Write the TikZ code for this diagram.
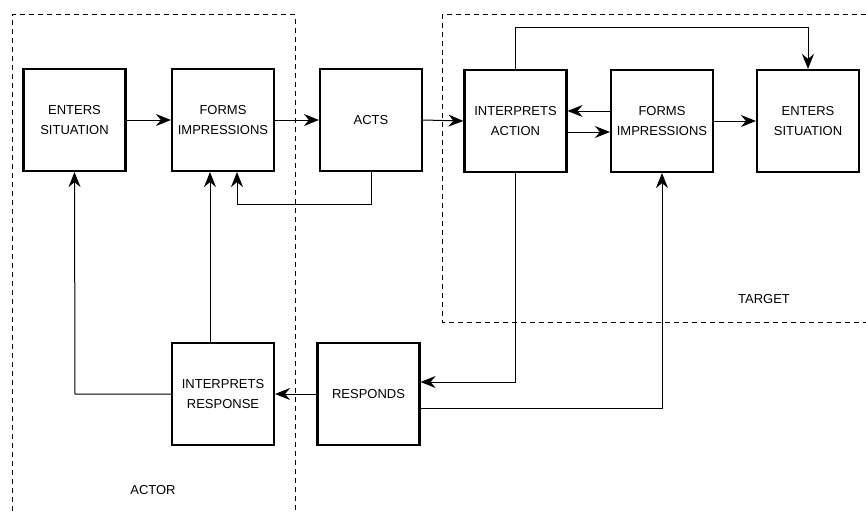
\documentclass[tikz,border=0pt]{standalone}
\usepackage{fontspec}
\setmainfont{Liberation Sans}
\usetikzlibrary{arrows.meta}
\tikzset{
  stage/.style={draw, line width=2.2pt, minimum width=102pt, minimum height=102pt,
    align=center, inner sep=0pt, font=\fontsize{13}{20.5}\selectfont},
  link/.style={line width=1pt},
  flow/.style={link, -{Stealth[length=15pt, width=12pt, inset=5pt]}},
  region/.style={line width=1pt, dash pattern=on 5pt off 4pt},
  caption/.style={font=\fontsize{13}{15}\selectfont}
}
\begin{document}
\begin{tikzpicture}[x=1pt, y=-1pt]
\useasboundingbox (0,0) rectangle (866,511);

% actor and target regions
\draw[region] (12,511) -- (12,15) -- (295,15) -- (295,511);
\draw[region] (866,15) -- (442,15) -- (442,322) -- (866,322);

% actor side
\node[stage] (es1) at (74.5,120) {ENTERS\\SITUATION};
\node[stage] (fi1) at (223,120) {FORMS\\IMPRESSIONS};
\node[stage] (acts) at (371,120) {ACTS};
\node[stage] (ir) at (223,394) {INTERPRETS\\RESPONSE};
\node[stage] (rs) at (368.5,394) {RESPONDS};

% target side
\node[stage] (ia) at (515.5,121) {INTERPRETS\\ACTION};
\node[stage] (fi2) at (662,121) {FORMS\\IMPRESSIONS};
\node[stage] (es2) at (808,121) {ENTERS\\SITUATION};

\node[caption] (actor) at (153,490) {ACTOR};
\node[caption] (target) at (764,299) {TARGET};

% main sequence
\draw[flow] (es1.east) -- (fi1.west);
\draw[flow] (fi1.east) -- (acts.west);
\draw[flow] (acts.east) -- (ia.west);
\draw[flow] (fi2.west |- 0,111) -- (ia.east |- 0,111);
\draw[flow] (ia.east |- 0,132) -- (fi2.west |- 0,132);
\draw[flow] (fi2.east) -- (es2.west);
\draw[flow] (ia.north) -- (ia.north |- 0,28) -| (es2.north);

% feedback loops
\draw[flow] (acts.south) -- (acts.south |- 0,204) -| (fi1.south -| 237,0);
\draw[flow] (ir.north -| 210,0) -- (fi1.south -| 210,0);
\draw[flow] (ir.west) -- (ir.west -| 75,0) -- (es1.south);
\draw[flow] (rs.west) -- (ir.east);
\draw[flow] (ia.south) |- (rs.east |- 0,382);
\draw[flow] (rs.east |- 0,408) -| (fi2.south);
\end{tikzpicture}
\end{document}
